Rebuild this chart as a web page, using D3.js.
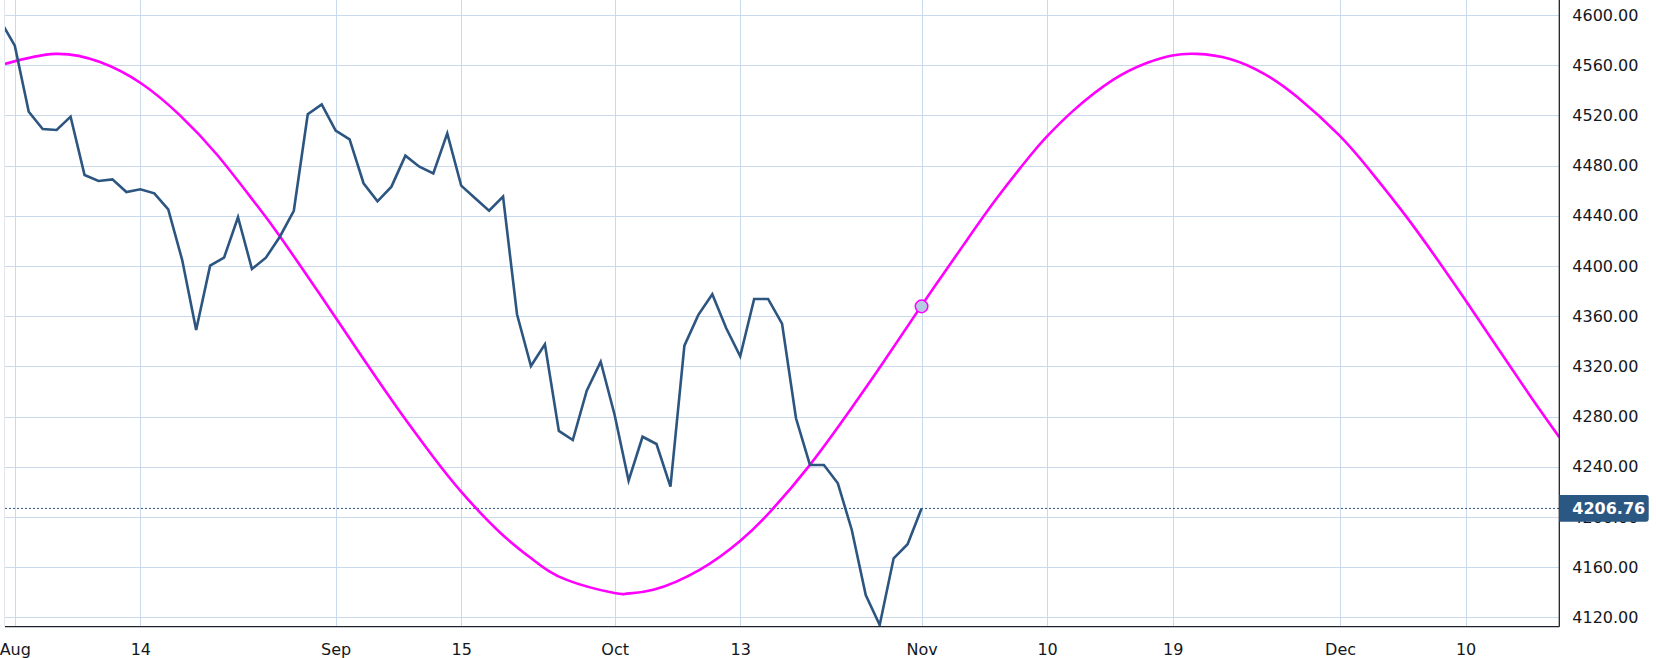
<!DOCTYPE html>
<html>
<head>
<meta charset="utf-8">
<script src="https://cdn.jsdelivr.net/npm/d3@7"></script>
<style>
  html, body { margin: 0; padding: 0; background: #ffffff; }
  svg { display: block; }
  text { font-family: "DejaVu Sans", Verdana, sans-serif; }
</style>
</head>
<body>
<svg id="chart" width="1656" height="658"></svg>
<script>
// ---------------- data ----------------
// daily closes, one per trading bar (bar 0 = Jul 31, bar 66 = Nov 1)
const closes = [
  4595, 4575.6, 4522.9, 4509.1, 4508.4, 4519.0, 4472.5, 4467.7, 4469.0, 4458.9,
  4461.1, 4457.9, 4445.1, 4404.7, 4349.0, 4400.2, 4406.6, 4438.8, 4397.6, 4406.6,
  4423.3, 4444.0, 4520.9, 4528.8, 4507.8, 4500.9, 4465.9, 4451.5, 4463.2, 4487.9,
  4479.1, 4473.8, 4505.7, 4464.0, 4453.9, 4444.1, 4455.3, 4361.5, 4320.3, 4337.6,
  4268.5, 4261.3, 4300.6, 4323.7, 4281.2, 4228.9, 4263.9, 4258.1, 4224.1, 4336.5,
  4361.0, 4377.4, 4350.3, 4328.0, 4373.7, 4373.7, 4354.0, 4278.6, 4241.4, 4241.4,
  4226.8, 4189.6, 4137.8, 4113.9, 4167.0, 4178.2, 4206.76
];

// cycle (sine) indicator: bar position and value
const cycleIdx = [
  0.30, 3.88, 7.11, 10.10, 12.84, 15.47, 18.10, 20.01, 22.88, 24.03,
  26.23, 28.61, 31.00, 33.01, 35.78, 38.17, 40.56, 43.98, 44.86, 46.77,
  50.12, 52.99, 55.14, 58.00, 60.87, 63.26, 65.96, 69.00, 71.39, 73.77,
  74.94, 76.88, 79.75, 82.14, 83.98, 85.73, 88.11, 90.50, 92.89, 95.95,
  98.15, 100.78, 103.40, 104.91, 107.23, 109.62, 111.72
];
const cycleValues = [
  4561.0, 4569.0, 4562.5, 4545.2, 4520.0, 4489.0, 4452.0, 4423.5, 4377.2, 4358.3,
  4322.0, 4283.8, 4247.8, 4220.0, 4187.6, 4165.7, 4149.8, 4139.3, 4138.9, 4141.9,
  4158.0, 4180.8, 4204.0, 4241.5, 4285.0, 4323.2, 4367.8, 4416.6, 4453.9, 4487.6,
  4502.6, 4523.8, 4548.5, 4561.8, 4567.8, 4569.0, 4565.0, 4553.5, 4535.0, 4504.0,
  4476.0, 4438.9, 4398.4, 4374.0, 4335.8, 4296.6, 4263.5
];

// current-bar marker on the cycle line
const markerIdx = 66;
const markerValue = 4367.8;
const lastPrice = 4206.76;

// axis ticks
const xTickIdx = [1, 10, 24, 33, 44, 53, 66, 75, 84, 96, 105];
const xTickLabels = ["Aug", "14", "Sep", "15", "Oct", "13", "Nov", "10", "19", "Dec", "10"];
const yTicks = [4120, 4160, 4200, 4240, 4280, 4320, 4360, 4400, 4440, 4480, 4520, 4560, 4600];

// ---------------- layout ----------------
const W = 1656, H = 658;
const plotLeft = 5, plotRight = 1559.3, plotTop = 0, plotBottom = 626.7;

const x = d3.scaleLinear().domain([0, 111.72]).range([0.85, 0.85 + 111.72 * 13.95]);
const y = d3.scaleLinear().domain([4120, 4600]).range([617.3, 15]);

const svg = d3.select("#chart");
svg.append("rect").attr("width", W).attr("height", H).attr("fill", "#ffffff");

svg.append("defs").append("clipPath").attr("id", "plotClip")
  .append("rect")
  .attr("x", plotLeft).attr("y", plotTop)
  .attr("width", plotRight - plotLeft).attr("height", plotBottom - plotTop);

// left pane edge
svg.append("line")
  .attr("x1", 4.5).attr("x2", 4.5).attr("y1", 0).attr("y2", plotBottom)
  .attr("stroke", "#e3e6ec").attr("stroke-width", 1);

const grid = svg.append("g").attr("clip-path", "url(#plotClip)");
const gridColor = "#c9d8ea";

// horizontal grid
grid.selectAll("line.hg").data(yTicks).join("line")
  .attr("class", "hg")
  .attr("x1", plotLeft).attr("x2", plotRight)
  .attr("y1", d => Math.round(y(d)) + 0.5).attr("y2", d => Math.round(y(d)) + 0.5)
  .attr("stroke", gridColor).attr("stroke-width", 1);

// vertical grid
grid.selectAll("line.vg").data(xTickIdx).join("line")
  .attr("class", "vg")
  .attr("x1", d => Math.round(x(d)) + 0.5).attr("x2", d => Math.round(x(d)) + 0.5)
  .attr("y1", plotTop).attr("y2", plotBottom)
  .attr("stroke", gridColor).attr("stroke-width", 1);

const plot = svg.append("g").attr("clip-path", "url(#plotClip)");

// last price dotted line
plot.append("line")
  .attr("x1", plotLeft).attr("x2", plotRight)
  .attr("y1", y(lastPrice)).attr("y2", y(lastPrice))
  .attr("stroke", "#2b5783").attr("stroke-width", 1)
  .attr("stroke-dasharray", "2,2");

// cycle line
const cycleData = cycleIdx.map((t, i) => [t, cycleValues[i]]);
plot.append("path")
  .datum(cycleData)
  .attr("fill", "none")
  .attr("stroke", "#ff00ff")
  .attr("stroke-width", 2.6)
  .attr("d", d3.line().x(d => x(d[0])).y(d => y(d[1])).curve(d3.curveNatural));

// price line
plot.append("path")
  .datum(closes)
  .attr("fill", "none")
  .attr("stroke", "#2c5580")
  .attr("stroke-width", 2.6)
  .attr("stroke-linejoin", "miter")
  .attr("d", d3.line().x((d, i) => x(i)).y(d => y(d)));

// marker
plot.append("circle")
  .attr("cx", x(markerIdx)).attr("cy", y(markerValue)).attr("r", 6.3)
  .attr("fill", "#b5cbe2").attr("stroke", "#ff00ff").attr("stroke-width", 1.5);

// axes lines
svg.append("line")
  .attr("x1", plotLeft).attr("x2", plotRight)
  .attr("y1", plotBottom).attr("y2", plotBottom)
  .attr("stroke", "#1e222d").attr("stroke-width", 1.3);
svg.append("line")
  .attr("x1", plotRight).attr("x2", plotRight)
  .attr("y1", 0).attr("y2", plotBottom)
  .attr("stroke", "#1e222d").attr("stroke-width", 1.3);

// y axis labels
const yAxis = d3.axisRight(y)
  .tickValues(yTicks)
  .tickSize(0)
  .tickPadding(13)
  .tickFormat(d3.format(".2f"));
const gy = svg.append("g").attr("transform", `translate(${plotRight},0)`).call(yAxis);
gy.select(".domain").remove();
gy.selectAll("text")
  .attr("font-family", "DejaVu Sans, Verdana, sans-serif")
  .attr("font-size", 16).attr("fill", "#131722");

// x axis labels
const xAxis = d3.axisBottom(x)
  .tickValues(xTickIdx)
  .tickSize(0)
  .tickPadding(16.5)
  .tickFormat((d, i) => xTickLabels[i]);
const gx = svg.append("g").attr("transform", `translate(0,${plotBottom})`).call(xAxis);
gx.select(".domain").remove();
gx.selectAll("text")
  .attr("font-family", "DejaVu Sans, Verdana, sans-serif")
  .attr("font-size", 16).attr("fill", "#131722");

// last price label (covers the 4200.00 tick label, as in the original)
const py = y(lastPrice);
const boxH = 26.7, boxW = 89.4;
svg.append("path")
  .attr("d", `M${plotRight},${py - boxH / 2} h${boxW - 3} a3,3 0 0 1 3,3 v${boxH - 6} a3,3 0 0 1 -3,3 h${-(boxW - 3)} Z`)
  .attr("fill", "#2b5783");
svg.append("text")
  .attr("x", plotRight + 13).attr("y", py).attr("dy", "0.35em")
  .attr("font-size", 16).attr("font-weight", 600).attr("fill", "#ffffff")
  .text(d3.format(".2f")(lastPrice));
</script>
</body>
</html>
